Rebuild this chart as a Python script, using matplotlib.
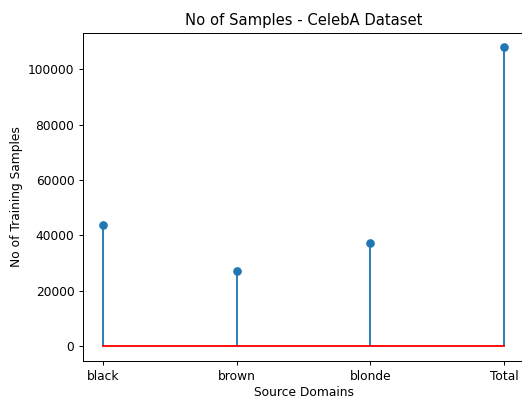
import numpy as np
from matplotlib import pyplot as plt

domains = ['black', 'brown', 'blonde', 'Total']
samples = [43700, 27000, 37200, 107900]

# the reference looks like a scaled-down tight crop, so render at a lower dpi
dpi = 88.5
fig = plt.figure(figsize=(522/dpi, 398/dpi), dpi=dpi)
ax = fig.add_axes([83/522, 1-361/398, 441/522, 328.5/398])
ax.stem(domains, samples, basefmt='r-')
ax.set_title('No of Samples - CelebA Dataset')
ax.set_xlabel('Source Domains', labelpad=2.5)
ax.set_ylabel('No of Training Samples')
fig.savefig('out.png', dpi=dpi)
